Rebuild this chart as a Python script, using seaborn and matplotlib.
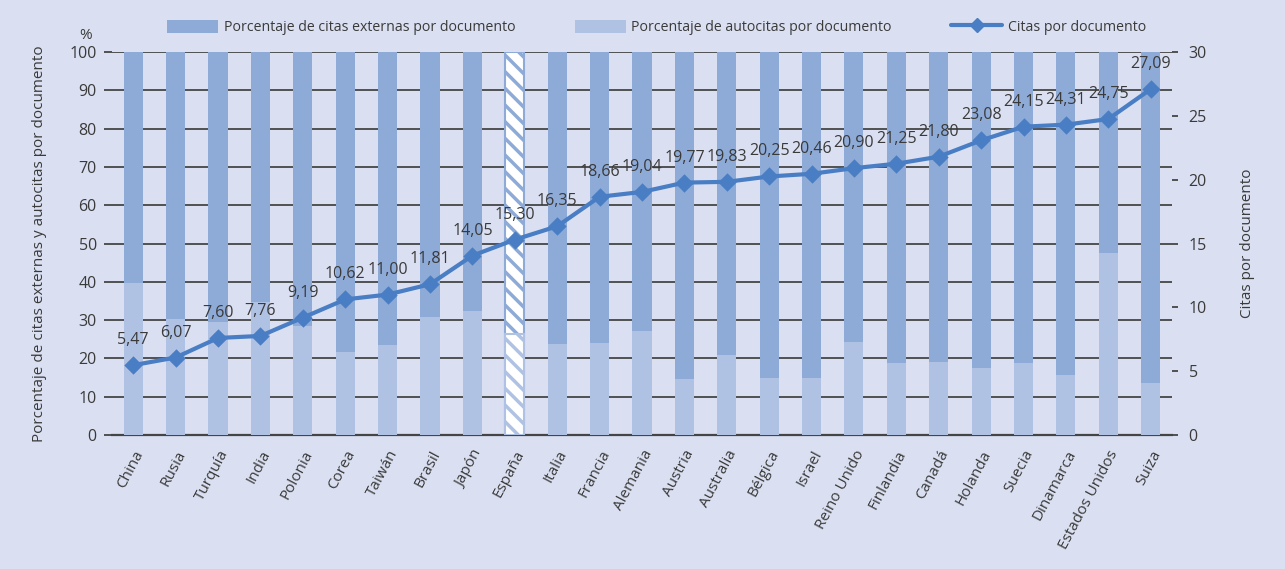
import numpy as np
import pandas as pd
import matplotlib
matplotlib.use("Agg")
import matplotlib.pyplot as plt
import seaborn as sns
from matplotlib.patches import Patch
from matplotlib.lines import Line2D

# -----------------------------
# Data
# -----------------------------
paises = ["China", "Rusia", "Turquía", "India", "Polonia", "Corea", "Taiwán",
          "Brasil", "Japón", "España", "Italia", "Francia", "Alemania", "Austria",
          "Australia", "Bélgica", "Israel", "Reino Unido", "Finlandia", "Canadá",
          "Holanda", "Suecia", "Dinamarca", "Estados Unidos", "Suiza"]
autocitas = [39.6, 30.3, 29.5, 34.8, 28.5, 21.8, 23.5, 30.9, 32.5, 26.5,
             23.8, 24.0, 27.2, 14.6, 20.9, 14.9, 14.9, 24.3, 18.8, 19.1,
             17.5, 18.8, 15.7, 47.5, 13.6]
externas = [100 - a for a in autocitas]
citas_doc = [5.47, 6.07, 7.60, 7.76, 9.19, 10.62, 11.00, 11.81, 14.05, 15.30,
             16.35, 18.66, 19.04, 19.77, 19.83, 20.25, 20.46, 20.90, 21.25, 21.80,
             23.08, 24.15, 24.31, 24.75, 27.09]

df = pd.DataFrame({"pais": paises, "autocitas": autocitas,
                   "externas": externas, "citas": citas_doc})
df["total"] = df["autocitas"] + df["externas"]

# -----------------------------
# Style
# -----------------------------
bg = "#dae0f1"
c_ext = "#8eaad6"
c_auto = "#b0c2e4"
c_line = "#4a7ec4"
c_text = "#3a3a3a"
c_grid = "#454545"

sns.set_style("white")
plt.rcParams["font.family"] = ["Open Sans", "DejaVu Sans"]
plt.rcParams["hatch.linewidth"] = 2.5
plt.rcParams["text.color"] = c_text
plt.rcParams["axes.labelcolor"] = c_text
plt.rcParams["xtick.color"] = c_text
plt.rcParams["ytick.color"] = c_text

fig = plt.figure(figsize=(12.85, 5.69), dpi=100, facecolor=bg)
ax = fig.add_axes([0.0872, 0.2355, 0.8248, 0.6731])
ax.set_facecolor(bg)

# stacked bars: full height (externas on top) then autocitas at the bottom
sns.barplot(data=df, x="pais", y="total", color=c_ext, width=0.45,
            saturation=1, linewidth=0, edgecolor="none", ax=ax, zorder=2)
sns.barplot(data=df, x="pais", y="autocitas", color=c_auto, width=0.45,
            saturation=1, linewidth=0, edgecolor="none", ax=ax, zorder=3)

# España hatched
i_es = paises.index("España")
n = len(paises)
for k, col in [(i_es, c_ext), (n + i_es, c_auto)]:
    p = ax.patches[k]
    p.set_facecolor("white")
    p.set_edgecolor(col)
    p.set_hatch("\\\\")
    p.set_linewidth(1.5)

ax.set_ylim(0, 100)
ax.set_xlim(-0.5, n - 0.5)
ax.set_yticks(np.arange(0, 101, 10))
ax.yaxis.grid(True, color=c_grid, linewidth=1.3, zorder=1)
ax.set_axisbelow(True)
for s in ["top", "left", "right"]:
    ax.spines[s].set_visible(False)
ax.spines["bottom"].set_color(c_grid)
ax.spines["bottom"].set_linewidth(1.6)
ax.tick_params(axis="y", length=6, width=1.3, color=c_grid, labelsize=11.5, pad=5)
ax.set_xticks(range(n))
ax.set_xticklabels(paises, rotation=62, ha="right", rotation_mode="anchor", fontsize=11)
ax.tick_params(axis="x", length=0, pad=9)
# ticks between categories
ax.set_xticks(np.arange(-0.5, n, 1), minor=True)
ax.tick_params(axis="x", which="minor", length=5, width=1.2, color=c_grid)
ax.set_xlabel("")
ax.set_ylabel("Porcentaje de citas externas y autocitas por documento", fontsize=11, labelpad=16)
ax.text(-0.025, 1.035, "%", transform=ax.transAxes, fontsize=11, ha="center")

# line on the secondary axis
ax2 = ax.twinx()
ax2.patch.set_visible(False)
sns.pointplot(data=df, x="pais", y="citas", color=c_line, markers="D",
              markersize=7, linewidth=3, ax=ax2, zorder=5)
ax2.set_ylim(0, 30)
ax2.set_xlim(-0.5, n - 0.5)
ax2.set_yticks(np.arange(0, 31, 5))
for s in ["top", "left", "right", "bottom"]:
    ax2.spines[s].set_visible(False)
ax2.tick_params(axis="y", length=4, width=1.3, color=c_grid, labelsize=11.5, pad=8)
ax2.set_ylabel("Citas por documento", fontsize=11, labelpad=24)
ax2.set_xlabel("")

for i, v in enumerate(citas_doc):
    ax2.annotate(f"{v:.2f}".replace(".", ","), (i, v), xytext=(0, 18),
                 textcoords="offset points", ha="center", va="center",
                 fontsize=11.5, color=c_text, zorder=6)

# legend
handles = [Patch(facecolor=c_ext, edgecolor="none"),
           Patch(facecolor=c_auto, edgecolor="none"),
           Line2D([0], [0], color=c_line, lw=3, marker="D", markersize=7)]
labels = ["Porcentaje de citas externas por documento",
          "Porcentaje de autocitas por documento",
          "Citas por documento"]
fig.legend(handles, labels, loc="center", bbox_to_anchor=(0.511, 0.952), ncol=3,
           frameon=False, fontsize=10.2, handlelength=3.6, handleheight=1.1,
           columnspacing=4.2, handletextpad=0.4)

fig.savefig("out.png", dpi=100, facecolor=bg)
